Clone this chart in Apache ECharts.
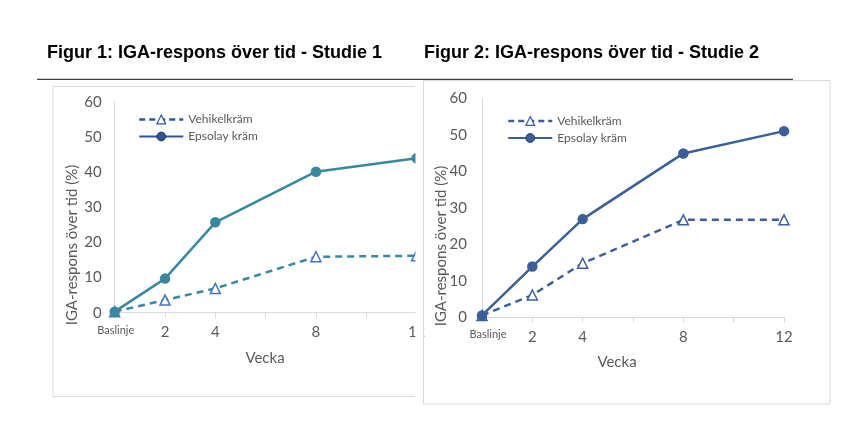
<!DOCTYPE html>
<html>
<head>
  <meta charset="utf-8">
  <title>IGA-respons</title>
  <script src="https://cdn.jsdelivr.net/npm/echarts@6/dist/echarts.min.js"></script>
  <style>
    html, body { margin: 0; padding: 0; background: #fff; }
  </style>
</head>
<body>
<div id="main" style="width: 842px; height: 422px"></div>
<script type="text/javascript">
// data
var weeks = [0, 2, 4, 8, 12];
var xLabelWeeks = [2, 4, 8, 12];
var baselineLabel = 'Baslinje';
var seriesNames = ['Vehikelkräm', 'Epsolay kräm'];
var study1Vehicle = [0.3, 3.6, 6.9, 15.9, 16.2];
var study1Epsolay = [0.3, 9.7, 25.7, 40.1, 43.9];
var study2Vehicle = [0.5, 6.1, 14.8, 26.7, 26.7];
var study2Epsolay = [0.5, 13.9, 26.9, 44.9, 51.0];

var FONT = 'Lato';
var GREY = '#595959';
var TEAL = '#3A889D';
var BLUE = '#3B5F99';
var TRI = '#4472C4';
var LEGEND_BLUE = '#2F5597';

function pairs(ys) {
  return weeks.map(function (w, i) { return [w, ys[i]]; });
}

function xAxisFor(idx) {
  return {
    gridIndex: idx, type: 'value', min: 0, max: 12, interval: 2,
    axisLine: { lineStyle: { color: '#d9d9d9' } },
    axisTick: { show: true, length: 5, lineStyle: { color: '#d9d9d9' } },
    splitLine: { show: false },
    axisLabel: {
      color: GREY, fontFamily: FONT, fontSize: 15, margin: 12,
      formatter: function (v) {
        if (v === 0) return '{b|' + baselineLabel + '}';
        return xLabelWeeks.indexOf(v) >= 0 ? String(v) : '';
      },
      rich: { b: { fontSize: 11, color: GREY, fontFamily: FONT, padding: [0, 0, 4, idx ? 12 : 2] } }
    }
  };
}

function yAxisFor(idx, margin) {
  return {
    gridIndex: idx, type: 'value', min: 0, max: 60, interval: 10,
    axisLine: { show: true, lineStyle: { color: '#d9d9d9' } },
    axisTick: { show: false },
    splitLine: { show: false },
    axisLabel: { color: GREY, fontFamily: FONT, fontSize: 15, margin: margin }
  };
}

function lineSeries(idx, name, ys, color, dashed, triColor) {
  return {
    name: name, type: 'line', xAxisIndex: idx, yAxisIndex: idx,
    data: pairs(ys),
    symbol: dashed ? 'triangle' : 'circle',
    symbolSize: dashed ? 10 : 10.5,
    clip: false,
    lineStyle: { color: color, width: 2.5, type: dashed ? [7, 5] : 'solid' },
    itemStyle: dashed
      ? { color: '#fff', borderColor: triColor, borderWidth: 1.5 }
      : { color: color, borderColor: color, borderWidth: 0 },
    emphasis: { disabled: true },
    z: dashed ? 3 : 4
  };
}

function legendFor(idx, left, top, lineColor, triColor) {
  return {
    left: left, top: top, orient: 'vertical',
    itemWidth: 44, itemHeight: 11, itemGap: 5,
    textStyle: { color: GREY, fontFamily: FONT, fontSize: 12 },
    selectedMode: false,
    data: [
      { name: seriesNames[0] + (idx ? ' ' : ''),
        itemStyle: { color: '#fff', borderColor: triColor, borderWidth: 1.2 },
        lineStyle: { color: lineColor, width: 2.5, type: [6, 4] } },
      { name: seriesNames[1] + (idx ? ' ' : ''),
        itemStyle: { color: lineColor, borderColor: '#203864', borderWidth: 1 },
        lineStyle: { color: lineColor, width: 2, type: 'solid' } }
    ]
  };
}

function text(x, y, str, opts) {
  return {
    type: 'text', x: x, y: y, rotation: opts.rotation || 0, z: 200,
    style: {
      text: str, fill: opts.color || GREY,
      font: opts.font || ('15px ' + FONT),
      align: opts.align || 'center', verticalAlign: 'middle'
    }
  };
}

var myChart = echarts.init(document.getElementById('main'));

myChart.setOption({
  animation: false,
  grid: [
    { left: 114.7, top: 101.7, width: 301.9, height: 211, containLabel: false },
    { left: 482, top: 98.3, width: 302, height: 219, containLabel: false }
  ],
  xAxis: [xAxisFor(0), xAxisFor(1)],
  yAxis: [yAxisFor(0, 13), yAxisFor(1, 15)],
  legend: [
    legendFor(0, 133, 108.5, LEGEND_BLUE, LEGEND_BLUE),
    legendFor(1, 502, 110, BLUE, BLUE)
  ],
  series: [
    lineSeries(0, seriesNames[0], study1Vehicle, TEAL, true, TRI),
    lineSeries(0, seriesNames[1], study1Epsolay, TEAL, false),
    lineSeries(1, seriesNames[0] + ' ', study2Vehicle, BLUE, true, BLUE),
    lineSeries(1, seriesNames[1] + ' ', study2Epsolay, BLUE, false)
  ],
  graphic: [
    // chart 1 is clipped at its right edge
    { type: 'rect', z: 150, shape: { x: 415.5, y: 84, width: 7.5, height: 320 }, style: { fill: '#fff' } },
    { type: 'polyline', z: 160, shape: { points: [[415, 86.5], [53, 86.5], [53, 396.5], [415, 396.5]] },
      style: { stroke: '#d9d9d9', lineWidth: 1, fill: null } },
    { type: 'rect', z: 160, shape: { x: 423.5, y: 80.5, width: 406.5, height: 323.5 },
      style: { stroke: '#d9d9d9', lineWidth: 1, fill: null } },
    { type: 'line', z: 170, shape: { x1: 37, y1: 79.3, x2: 793, y2: 79.3 },
      style: { stroke: '#404040', lineWidth: 1.3 } },
    text(47, 53, 'Figur 1: IGA-respons över tid - Studie 1',
      { align: 'left', color: '#000', font: 'bold 18px "Liberation Sans"' }),
    text(424, 53, 'Figur 2: IGA-respons över tid - Studie 2',
      { align: 'left', color: '#000', font: 'bold 18px "Liberation Sans"' }),
    text(72, 245, 'IGA-respons över tid (%)', { rotation: Math.PI / 2 }),
    text(441.5, 246, 'IGA-respons över tid (%)', { rotation: Math.PI / 2 }),
    text(265, 358, 'Vecka', {}),
    text(617, 362, 'Vecka', {})
  ]
});
</script>
</body>
</html>
